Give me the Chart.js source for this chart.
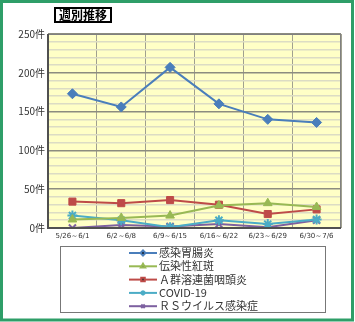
<!DOCTYPE html>
<html>
<head>
<meta charset="utf-8">
<script src="https://cdn.jsdelivr.net/npm/chart.js@4"></script>
<style>
  html, body { margin: 0; padding: 0; background: #fff; }
  #wrap { position: relative; width: 355px; height: 322px; }
</style>
</head>
<body>
<div id="wrap"><canvas id="myChart" width="355" height="322"></canvas></div>
<script>
const weeks = ['5/26～6/1', '6/2～6/8', '6/9～6/15', '6/16～6/22', '6/23～6/29', '6/30～7/6'];
const names = ['感染胃腸炎', '伝染性紅斑', 'Ａ群溶連菌咽頭炎', 'COVID-19', 'ＲＳウイルス感染症'];
const gastro = [173, 156, 207, 160, 140, 136];
const erythema = [11, 13, 16, 29, 32, 27];
const strep = [34, 32, 36, 30, 18, 24];
const covid = [16, 10, 1, 10, 5, 11];
const rsv = [0, 4, 2, 5, 1, 10];

const colors = ['#4a7ebb', '#98b954', '#be4b48', '#4bacc6', '#7d60a0'];
const markers = ['rectRot', 'triangle', 'rect', 'star', 'crossRot'];
const series = [gastro, erythema, strep, covid, rsv];

const frame = {
  id: 'frame',
  beforeDraw(chart) {
    const c = chart.ctx, a = chart.chartArea;
    c.save();
    c.fillStyle = '#ffffc6';
    c.fillRect(a.left, a.top, a.right - a.left, a.bottom - a.top);
    c.restore();
  },
  afterDraw(chart) {
    const c = chart.ctx, a = chart.chartArea;
    c.save();
    // plot border
    c.strokeStyle = '#808080';
    c.lineWidth = 1;
    c.strokeRect(a.left + 0.5, a.top + 0.5, a.right - a.left - 1, a.bottom - a.top);
    c.strokeStyle = '#505050';
    c.lineWidth = 2;
    c.beginPath();
    c.moveTo(a.left, a.top); c.lineTo(a.left, a.bottom); c.lineTo(a.right, a.bottom);
    c.stroke();

    // outer green frame
    c.strokeStyle = '#2e9e68';
    c.lineWidth = 3;
    c.strokeRect(1.5, 1.5, 351, 318.5);

    // title box
    c.fillStyle = '#fff';
    c.fillRect(54, 7, 58, 16);
    c.strokeStyle = '#000';
    c.lineWidth = 2;
    c.strokeRect(55, 8, 56, 14);
    c.fillStyle = '#000';
    c.font = 'bold 12px "Noto Sans CJK JP"';
    c.textAlign = 'center';
    c.textBaseline = 'middle';
    c.fillText('週別推移', 83, 15.5);

    // legend box
    c.strokeStyle = '#777';
    c.lineWidth = 1;
    c.strokeRect(60.5, 246.5, 265, 66);
    c.textAlign = 'left';
    c.font = '11px "Noto Sans CJK JP"';
    names.forEach((n, i) => {
      const y = 253 + i * 13.3;
      c.strokeStyle = colors[i];
      c.lineWidth = 2;
      c.beginPath(); c.moveTo(129, y); c.lineTo(157, y); c.stroke();
      Chart.helpers.drawPoint(c, { pointStyle: markers[i], radius: 2.5, borderWidth: 1 }, 143, y);
      c.fillStyle = '#333';
      c.fillText(n, 159, y);
    });
    c.restore();
  }
};

new Chart(document.getElementById('myChart'), {
  type: 'line',
  data: {
    labels: weeks,
    datasets: series.map((d, i) => ({
      label: names[i],
      data: d,
      borderColor: colors[i],
      backgroundColor: colors[i],
      borderWidth: 2,
      pointStyle: markers[i],
      pointRadius: 5,
      pointBorderWidth: i >= 3 ? 2 : 1,
      pointBorderColor: colors[i],
      tension: 0
    }))
  },
  options: {
    responsive: false,
    animation: false,
    layout: { padding: { left: 0, right: 14, top: 34, bottom: 0 } },
    plugins: { legend: { display: false }, tooltip: { enabled: false } },
    scales: {
      x: {
        offset: true,
        afterFit: s => { s.height = 94; },
        grid: { offset: true, color: '#a0a090', drawTicks: false },
        border: { display: false },
        ticks: { color: '#333', font: { size: 7, family: 'DejaVu Sans' }, maxRotation: 0, padding: 4 }
      },
      y: {
        min: 0,
        max: 250,
        afterFit: s => { s.width = 48; },
        grid: {
          drawTicks: false,
          color: ctx => ctx.tick.value % 50 === 0 ? '#8c8c80' : '#dcdcc4',
          lineWidth: ctx => ctx.tick.value % 50 === 0 ? 1.5 : 1.5
        },
        border: { display: false },
        ticks: {
          stepSize: 10,
          autoSkip: false,
          padding: 3,
          color: '#333',
          font: { size: 10, family: 'Noto Sans CJK JP' },
          callback: v => v % 50 === 0 ? v + '件' : ''
        }
      }
    }
  },
  plugins: [frame]
});
</script>
</body>
</html>
